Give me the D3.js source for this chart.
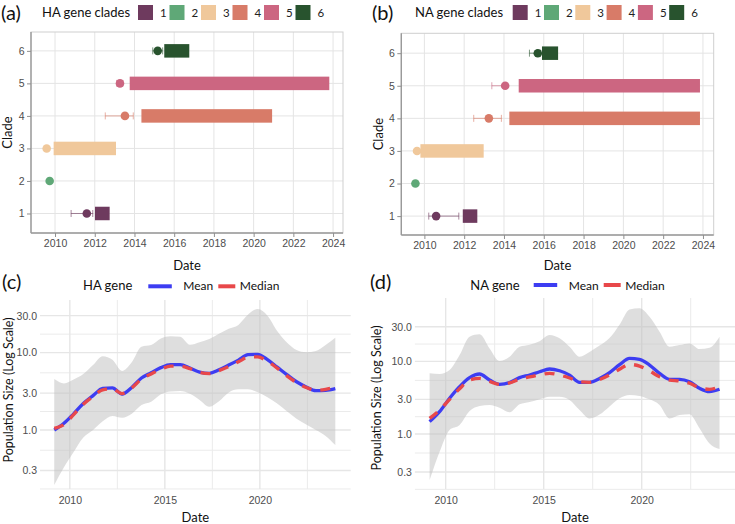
<!DOCTYPE html>
<html>
<head>
<meta charset="utf-8">
<script src="https://cdn.jsdelivr.net/npm/d3@7"></script>
<style>
body { margin: 0; background: #fff; }
svg { font-family: Lato, "Open Sans", sans-serif; }
</style>
</head>
<body>
<div id="my_dataviz"></div>
<script>
// ---- clade timelines (panels a, b) ----
var clades = [1, 2, 3, 4, 5, 6];
var cladeColors = ["#6e3a5e", "#5fa877", "#f0c89b", "#d87b68", "#cc6681", "#28532e"];
var cladeYearTicks = [2010, 2012, 2014, 2016, 2018, 2020, 2022, 2024];

var haBarStart = [2012.01, null, 2009.93, 2014.35, 2013.76, 2015.50];
var haBarEnd   = [2012.75, null, 2013.07, 2020.93, 2023.81, 2016.76];
var haPoint    = [2011.60, 2009.73, 2009.58, 2013.52, 2013.27, 2015.17];
var haLow      = [2010.81, 2009.71, 2009.52, 2012.53, 2013.11, 2014.92];
var haHigh     = [2011.90, 2009.75, 2009.64, 2013.94, 2013.41, 2015.42];

var naBarStart = [2011.93, null, 2009.80, 2014.27, 2014.74, 2015.91];
var naBarEnd   = [2012.66, null, 2012.98, 2023.85, 2023.85, 2016.72];
var naPoint    = [2010.59, 2009.55, 2009.63, 2013.24, 2014.06, 2015.70];
var naLow      = [2010.22, 2009.53, 2009.58, 2012.48, 2013.39, 2015.28];
var naHigh     = [2011.73, 2009.57, 2009.68, 2013.87, 2013.99, 2015.83];

// ---- population size (panels c, d) ----
var years = [2009.18, 2009.69, 2010.20, 2010.71, 2011.22, 2011.73, 2012.24, 2012.75, 2013.26, 2013.77,
             2014.28, 2014.79, 2015.30, 2015.81, 2016.32, 2016.83, 2017.34, 2017.85, 2018.36, 2018.87,
             2019.38, 2019.89, 2020.40, 2020.91, 2021.42, 2021.93, 2022.44, 2022.95, 2023.46, 2023.97];
var popTicks = [0.3, 1, 3, 10, 30];
var popYearTicks = [2010, 2015, 2020];

var haMean   = [1.00, 1.22, 1.62, 2.20, 2.78, 3.45, 3.50, 2.92, 3.55, 4.70,
                5.50, 6.40, 7.00, 6.98, 6.30, 5.60, 5.40, 6.00, 6.90, 8.00,
                9.40, 9.50, 8.10, 6.50, 5.20, 4.20, 3.60, 3.22, 3.25, 3.42];
var haMedian = [1.05, 1.18, 1.58, 2.15, 2.72, 3.30, 3.40, 2.95, 3.50, 4.55,
                5.30, 6.10, 6.70, 6.70, 6.20, 5.55, 5.35, 5.85, 6.60, 7.60,
                8.70, 8.80, 7.70, 6.30, 5.00, 4.10, 3.55, 3.25, 3.35, 3.60];
var haLower  = [0.195, 0.33, 0.52, 0.80, 1.00, 1.30, 1.52, 1.44, 1.62, 2.10,
                2.32, 2.90, 3.15, 3.20, 2.95, 2.45, 2.00, 2.35, 3.05, 3.35,
                3.35, 3.07, 2.65, 2.20, 1.75, 1.40, 1.18, 1.00, 0.84, 0.64];
var haUpper  = [4.55, 4.00, 4.50, 5.30, 6.90, 9.00, 8.10, 5.80, 7.50, 11.9,
                12.5, 15.2, 16.3, 16.0, 12.6, 13.6, 15.0, 17.5, 20.3, 22.8,
                31.0, 36.5, 30.0, 19.0, 13.5, 10.8, 10.1, 10.5, 12.5, 15.6];

var naMean   = [1.48, 2.03, 3.10, 4.48, 5.97, 6.70, 5.54, 4.83, 5.10, 5.97,
                6.50, 7.20, 7.86, 7.43, 6.48, 5.15, 5.15, 5.80, 7.00, 9.00,
                11.0, 10.7, 8.90, 6.85, 5.67, 5.67, 5.25, 4.26, 3.83, 4.13];
var naMedian = [1.64, 2.14, 3.00, 4.20, 5.54, 5.83, 5.30, 4.83, 5.05, 5.72,
                6.10, 6.50, 6.85, 6.48, 5.90, 5.25, 5.15, 5.60, 6.50, 7.80,
                9.10, 8.60, 7.38, 6.15, 5.54, 5.36, 5.00, 4.34, 4.13, 4.48];
var naLower  = [0.232, 0.57, 1.14, 1.33, 2.07, 2.43, 2.51, 2.30, 1.99, 2.56,
                2.75, 3.00, 3.26, 3.26, 2.95, 2.14, 1.64, 1.85, 2.40, 3.10,
                3.45, 3.35, 3.00, 2.51, 1.64, 1.83, 1.87, 1.20, 0.74, 0.62];
var naUpper  = [6.85, 6.70, 7.60, 12.2, 21.9, 23.6, 15.1, 10.1, 11.6, 15.9,
                17.0, 19.0, 23.1, 20.8, 15.9, 11.6, 13.5, 16.5, 21.0, 32.0,
                52.0, 53.9, 41.2, 25.6, 15.9, 16.8, 17.7, 14.8, 15.4, 21.9];

var svg = d3.select("#my_dataviz")
  .append("svg")
    .attr("width", 735)
    .attr("height", 524);

function styleAxis(ax, showTicks) {
  ax.select(".domain").remove();
  ax.selectAll(".tick line").attr("stroke", showTicks ? "#8f8f8f" : "none");
  ax.selectAll(".tick text").attr("fill", "#4d4d4d").style("font-size", "10.5px");
}

function panelLetter(txt, x, y) {
  svg.append("text").attr("x", x).attr("y", y)
    .style("font-size", "20px").attr("fill", "#111").text(txt);
}

// ---------- panels (a) and (b) ----------
function drawClades(p, barStart, barEnd, point, low, high) {
  var x = d3.scaleLinear().domain(p.xDomain).range([p.left, p.right]);
  var y = d3.scaleLinear().domain(p.yDomain).range([p.bottom, p.top]);
  var g = svg.append("g");

  g.selectAll(".vgrid").data(cladeYearTicks).enter().append("line")
    .attr("x1", function(d) { return x(d); }).attr("x2", function(d) { return x(d); })
    .attr("y1", p.top).attr("y2", p.bottom)
    .attr("stroke", "#e4e4e4").attr("stroke-width", 1);
  g.selectAll(".hgrid").data(clades).enter().append("line")
    .attr("x1", p.left).attr("x2", p.right)
    .attr("y1", function(d) { return y(d); }).attr("y2", function(d) { return y(d); })
    .attr("stroke", "#e4e4e4").attr("stroke-width", 1);

  g.append("rect")
    .attr("x", p.left).attr("y", p.top)
    .attr("width", p.right - p.left).attr("height", p.bottom - p.top)
    .attr("fill", "none").attr("stroke", "#cfcfcf");
  g.append("line").attr("x1", p.left).attr("x2", p.left).attr("y1", p.top).attr("y2", p.bottom)
    .attr("stroke", "#9a9a9a").attr("stroke-width", 1.4);
  g.append("line").attr("x1", p.left).attr("x2", p.right).attr("y1", p.bottom).attr("y2", p.bottom)
    .attr("stroke", "#9a9a9a").attr("stroke-width", 1.4);

  var xa = g.append("g").attr("transform", "translate(0," + p.bottom + ")")
    .call(d3.axisBottom(x).tickValues(cladeYearTicks).tickFormat(d3.format("d"))
      .tickSize(4).tickPadding(3));
  styleAxis(xa, true);
  var ya = g.append("g").attr("transform", "translate(" + p.left + ",0)")
    .call(d3.axisLeft(y).tickValues(clades).tickFormat(d3.format("d")).tickSize(4).tickPadding(2.5));
  styleAxis(ya, true);

  var rows = clades.map(function(c, i) {
    return {clade: c, start: barStart[i], end: barEnd[i], point: point[i],
            low: low[i], high: high[i], color: cladeColors[i]};
  });

  // error bars
  var eb = g.selectAll(".err").data(rows).enter().append("g")
    .attr("stroke", function(d) { return d.color; })
    .attr("stroke-opacity", 0.6).attr("stroke-width", 1);
  eb.append("line")
    .attr("x1", function(d) { return x(d.low); }).attr("x2", function(d) { return x(d.high); })
    .attr("y1", function(d) { return y(d.clade); }).attr("y2", function(d) { return y(d.clade); });
  eb.append("line")
    .attr("x1", function(d) { return x(d.low); }).attr("x2", function(d) { return x(d.low); })
    .attr("y1", function(d) { return y(d.clade) - 3.5; }).attr("y2", function(d) { return y(d.clade) + 3.5; });
  eb.append("line")
    .attr("x1", function(d) { return x(d.high); }).attr("x2", function(d) { return x(d.high); })
    .attr("y1", function(d) { return y(d.clade) - 3.5; }).attr("y2", function(d) { return y(d.clade) + 3.5; });

  g.selectAll(".pt").data(rows).enter().append("circle")
    .attr("cx", function(d) { return x(d.point); })
    .attr("cy", function(d) { return y(d.clade); })
    .attr("r", 4.3)
    .attr("fill", function(d) { return d.color; });

  g.selectAll(".bar").data(rows.filter(function(d) { return d.start != null; })).enter().append("rect")
    .attr("x", function(d) { return x(d.start); })
    .attr("width", function(d) { return x(d.end) - x(d.start); })
    .attr("y", function(d) { return y(d.clade) - 6.75; })
    .attr("height", 13.5)
    .attr("fill", function(d) { return d.color; });

  g.append("text").attr("x", (p.left + p.right) / 2).attr("y", 269.5)
    .attr("text-anchor", "middle").style("font-size", "13px").attr("fill", "#111").text("Date");
  g.append("text").attr("transform", "translate(" + p.titleX + "," + ((p.top + p.bottom) / 2) + ") rotate(-90)")
    .attr("text-anchor", "middle").style("font-size", "13px").attr("fill", "#111").text("Clade");

  // legend
  var lg = g.append("g");
  lg.append("text").attr("x", p.legTitleX).attr("y", 17).style("font-size", "13px")
    .attr("fill", "#111").text(p.legTitle);
  var item = lg.selectAll(".leg").data(rows).enter().append("g")
    .attr("transform", function(d, i) { return "translate(" + (p.legX + i * p.legStep) + ",5)"; });
  item.append("rect").attr("width", 15).attr("height", 15)
    .attr("fill", function(d) { return d.color; });
  item.append("text").attr("x", 22).attr("y", 12).style("font-size", "11.5px")
    .attr("fill", "#222").text(function(d) { return d.clade; });
}

drawClades({left: 31, right: 343, top: 32, bottom: 233, xDomain: [2008.79, 2024.5], yDomain: [0.4, 6.58],
            titleX: 12, legTitle: "HA gene clades", legTitleX: 42, legX: 138, legStep: 31.5},
           haBarStart, haBarEnd, haPoint, haLow, haHigh);
drawClades({left: 401.3, right: 713.7, top: 33.3, bottom: 235, xDomain: [2008.84, 2024.54], yDomain: [0.42, 6.61],
            titleX: 383, legTitle: "NA gene clades", legTitleX: 415, legX: 512.7, legStep: 31.3},
           naBarStart, naBarEnd, naPoint, naLow, naHigh);

// ---------- panels (c) and (d) ----------
function drawPop(p, mean, median, lower, upper) {
  var x = d3.scaleLinear().domain(p.xDomain).range([p.left, p.right]);
  var y = d3.scaleLog().domain(p.yDomain).range([p.bottom, p.top]);
  var g = svg.append("g");

  var minorY = [0.1732, 0.5477, 1.732, 5.477, 17.32];
  var minorX = [2012.5, 2017.5, 2022.5];

  g.selectAll(".mx").data(minorX).enter().append("line")
    .attr("x1", function(d) { return x(d); }).attr("x2", function(d) { return x(d); })
    .attr("y1", p.top).attr("y2", p.bottom)
    .attr("stroke", "#ebebeb").attr("stroke-width", 1);
  g.selectAll(".my").data(minorY).enter().append("line")
    .attr("x1", p.left).attr("x2", p.right)
    .attr("y1", function(d) { return y(d); }).attr("y2", function(d) { return y(d); })
    .attr("stroke", "#ebebeb").attr("stroke-width", 1);
  g.selectAll(".gx").data(popYearTicks).enter().append("line")
    .attr("x1", function(d) { return x(d); }).attr("x2", function(d) { return x(d); })
    .attr("y1", p.top).attr("y2", p.bottom)
    .attr("stroke", "#e6e6e6").attr("stroke-width", 1.4);
  g.selectAll(".gy").data(popTicks).enter().append("line")
    .attr("x1", p.left).attr("x2", p.right)
    .attr("y1", function(d) { return y(d); }).attr("y2", function(d) { return y(d); })
    .attr("stroke", "#e6e6e6").attr("stroke-width", 1.4);

  var xa = g.append("g").attr("transform", "translate(0," + p.bottom + ")")
    .call(d3.axisBottom(x).tickValues(popYearTicks).tickFormat(d3.format("d")).tickSize(0).tickPadding(8));
  styleAxis(xa, false);
  var ya = g.append("g").attr("transform", "translate(" + p.left + ",0)")
    .call(d3.axisLeft(y).tickValues(popTicks).tickFormat(d3.format(".1f")).tickSize(0).tickPadding(3));
  styleAxis(ya, false);

  var pts = years.map(function(yr, i) {
    return {year: yr, mean: mean[i], median: median[i], lower: lower[i], upper: upper[i]};
  });

  g.append("path").datum(pts)
    .attr("d", d3.area().curve(d3.curveMonotoneX)
      .x(function(d) { return x(d.year); })
      .y0(function(d) { return y(d.lower); })
      .y1(function(d) { return y(d.upper); }))
    .attr("fill", "#bdbdbd").attr("fill-opacity", 0.5);

  g.append("path").datum(pts)
    .attr("d", d3.line().curve(d3.curveMonotoneX)
      .x(function(d) { return x(d.year); })
      .y(function(d) { return y(d.mean); }))
    .attr("fill", "none").attr("stroke", "#3d3df2").attr("stroke-width", 3.3);
  g.append("path").datum(pts)
    .attr("d", d3.line().curve(d3.curveMonotoneX)
      .x(function(d) { return x(d.year); })
      .y(function(d) { return y(d.median); }))
    .attr("fill", "none").attr("stroke", "#e8484a").attr("stroke-width", 3.3)
    .attr("stroke-dasharray", "10,9");

  g.append("text").attr("x", (p.left + p.right) / 2).attr("y", 521.5)
    .attr("text-anchor", "middle").style("font-size", "13px").attr("fill", "#111").text("Date");
  g.append("text").attr("transform", "translate(" + p.titleX + "," + p.titleY + ") rotate(-90)")
    .attr("text-anchor", "middle").style("font-size", "12.5px").attr("fill", "#111")
    .text("Population Size (Log Scale)");

  // legend
  var lg = g.append("g");
  lg.append("text").attr("x", p.legX).attr("y", 290).style("font-size", "13px")
    .attr("fill", "#111").text(p.legTitle);
  lg.append("line").attr("x1", p.meanX).attr("x2", p.meanX + 23.5).attr("y1", p.legY).attr("y2", p.legY)
    .attr("stroke", "#3d3df2").attr("stroke-width", 4);
  lg.append("text").attr("x", p.meanX + 35).attr("y", 290).style("font-size", "12px")
    .attr("fill", "#111").text("Mean");
  lg.append("line").attr("x1", p.medX).attr("x2", p.medX + 17).attr("y1", p.legY).attr("y2", p.legY)
    .attr("stroke", "#e8484a").attr("stroke-width", 4);
  lg.append("text").attr("x", p.medX + 21.5).attr("y", 290).style("font-size", "12px")
    .attr("fill", "#111").text("Median");
}

drawPop({left: 40, right: 350.7, top: 300, bottom: 489, xDomain: [2008.43, 2024.78], yDomain: [0.173, 47.8],
         titleX: 12.5, titleY: 390, legTitle: "HA gene", legX: 83, meanX: 148.3, medX: 218.3, legY: 286.3},
        haMean, haMedian, haLower, haUpper);
drawPop({left: 414.9, right: 735.2, top: 298, bottom: 489, xDomain: [2008.43, 2024.77], yDomain: [0.175, 74.6],
         titleX: 381, titleY: 398, legTitle: "NA gene", legX: 470.3, meanX: 533.7, medX: 603.7, legY: 285},
        naMean, naMedian, naLower, naUpper);

panelLetter("(a)", 1, 20);
panelLetter("(b)", 372, 20);
panelLetter("(c)", 2, 289);
panelLetter("(d)", 370, 289);
</script>
</body>
</html>
